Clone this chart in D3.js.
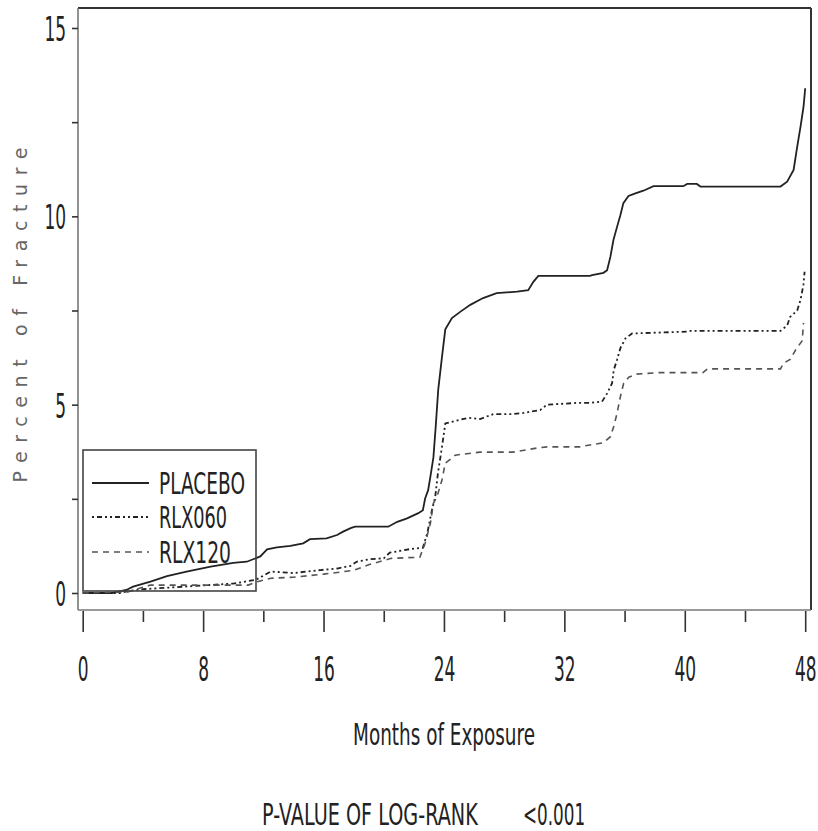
<!DOCTYPE html>
<html>
<head>
<meta charset="utf-8">
<script src="https://cdn.jsdelivr.net/npm/d3@7"></script>
<style>
  body { margin: 0; background: #fff; }
  text { font-family: "DejaVu Sans", sans-serif; }
</style>
</head>
<body>
<div id="plot"></div>
<script>
// Cumulative percent of fracture by month: [month, percent]
const placebo = [[0,0],[1.95,0],[2.9,0.08],[3.35,0.17],[4.5,0.3],[5.6,0.45],[6.9,0.57],[8.5,0.7],[10.0,0.8],[10.9,0.83],
  [11.8,0.97],[12.25,1.16],[12.9,1.21],[13.8,1.25],[14.65,1.32],[15.1,1.43],[16.2,1.45],[16.9,1.54],[17.3,1.63],[17.8,1.72],
  [18.1,1.76],[20.3,1.76],[20.9,1.89],[21.55,1.98],[22.3,2.12],[22.6,2.2],[22.75,2.51],[22.95,2.73],[23.1,3.09],[23.3,3.6],
  [23.45,4.4],[23.62,5.4],[23.87,6.27],[24.09,7.0],[24.53,7.3],[25.1,7.47],[25.75,7.65],[26.6,7.83],[27.5,7.96],[28.85,8.0],
  [29.6,8.04],[29.94,8.26],[30.27,8.42],[33.7,8.42],[33.84,8.44],[34.6,8.5],[34.84,8.57],[35.06,8.93],[35.26,9.37],[35.5,9.72],
  [35.72,10.03],[35.92,10.35],[36.26,10.54],[36.72,10.61],[37.25,10.68],[37.92,10.8],[39.9,10.8],[40.16,10.86],[40.8,10.86],
  [41.04,10.79],[46.36,10.79],[46.8,10.92],[47.23,11.23],[47.47,11.85],[47.69,12.38],[47.89,12.91],[48.0,13.4]];

const rlx060 = [[0,0],[2.5,0],[3,0.05],[4,0.1],[6,0.15],[8,0.2],[10,0.25],[11.5,0.35],[12.5,0.57],[14,0.53],
  [15.8,0.61],[16.9,0.65],[17.8,0.72],[18.2,0.83],[19.1,0.9],[20,0.92],[20.4,1.07],[21.8,1.17],[22.6,1.2],[22.9,1.6],
  [23.2,2.2],[23.42,2.55],[23.6,3.18],[23.87,3.88],[24.09,4.5],[25.09,4.6],[25.6,4.65],[26.4,4.62],[27.28,4.75],[28.6,4.75],
  [29.27,4.78],[30.4,4.86],[30.85,5.0],[33.0,5.05],[33.7,5.05],[34.5,5.08],[34.84,5.3],[35.17,5.57],[35.28,5.92],[35.5,6.19],
  [35.72,6.5],[36.06,6.76],[36.5,6.89],[40.16,6.94],[40.4,6.96],[46.36,6.96],[46.8,7.1],[47.0,7.33],[47.47,7.5],[47.69,7.78],
  [47.89,8.2],[47.96,8.53]];

const rlx120 = [[0,0],[3,0.03],[4,0.15],[4.5,0.21],[11,0.21],[11.6,0.3],[12.5,0.39],[14,0.42],[16,0.5],[18,0.6],
  [19,0.75],[20.5,0.92],[22.4,0.95],[22.75,1.32],[23.1,1.85],[23.3,2.38],[23.54,2.56],[23.87,3.0],[24.09,3.45],[24.53,3.58],
  [24.75,3.66],[26.4,3.74],[28.6,3.74],[30.2,3.85],[30.85,3.88],[33.0,3.88],[33.7,3.93],[34.6,3.99],[35.06,4.15],[35.28,4.42],
  [35.5,4.77],[35.72,5.21],[35.94,5.57],[36.28,5.73],[36.8,5.81],[38.2,5.85],[41.2,5.85],[41.5,5.95],[46.36,5.95],[46.56,6.1],
  [47.0,6.2],[47.36,6.45],[47.8,6.7],[47.89,7.17]];

const seriesNames = ["PLACEBO", "RLX060", "RLX120"];
const xMajorTicks = [0, 8, 16, 24, 32, 40, 48];
const xMinorTicks = [4, 12, 20, 28, 36, 44];
const yTicks = [0, 2.5, 5, 7.5, 10, 12.5, 15];
const yLabelTicks = [0, 5, 10, 15];

const width = 818, height = 831;
const frame = { left: 78, top: 8, right: 811, bottom: 610 };

const svg = d3.select("#plot")
    .append("svg")
    .attr("width", width)
    .attr("height", height);

const xScale = d3.scaleLinear().domain([0, 48]).range([82.7, 805.2]);
const yScale = d3.scaleLinear().domain([0, 15]).range([593, 28]);

// Frame: left / bottom in gray, top / right darker
svg.append("line")
    .attr("x1", frame.left).attr("x2", frame.right)
    .attr("y1", frame.top).attr("y2", frame.top)
    .attr("stroke", "#333").attr("stroke-width", 2);
svg.append("line")
    .attr("x1", frame.right).attr("x2", frame.right)
    .attr("y1", frame.top).attr("y2", frame.bottom)
    .attr("stroke", "#333").attr("stroke-width", 2);
svg.append("line")
    .attr("x1", frame.left).attr("x2", frame.left)
    .attr("y1", frame.top).attr("y2", frame.bottom)
    .attr("stroke", "#777").attr("stroke-width", 1.6);
svg.append("line")
    .attr("x1", frame.left).attr("x2", frame.right)
    .attr("y1", frame.bottom).attr("y2", frame.bottom)
    .attr("stroke", "#777").attr("stroke-width", 1.6);

// X axis, major and minor ticks
const xMajor = svg.append("g")
    .attr("transform", `translate(0,${frame.bottom + 1})`)
    .call(d3.axisBottom(xScale).tickValues(xMajorTicks).tickSize(21).tickSizeOuter(0));
xMajor.select(".domain").remove();
xMajor.selectAll("line").attr("stroke", "#333").attr("stroke-width", 1.6);
xMajor.selectAll("text")
    .attr("y", 70).attr("dy", 0)
    .attr("transform", "scale(0.5,1)")
    .style("font-size", "34px")
    .attr("fill", "#222");

const xMinor = svg.append("g")
    .attr("transform", `translate(0,${frame.bottom + 1})`)
    .call(d3.axisBottom(xScale).tickValues(xMinorTicks).tickSize(11).tickSizeOuter(0).tickFormat(""));
xMinor.select(".domain").remove();
xMinor.selectAll("line").attr("stroke", "#333").attr("stroke-width", 1.6);

// Y axis
const yAxis = svg.append("g")
    .attr("transform", `translate(${frame.left},0)`)
    .call(d3.axisLeft(yScale).tickValues(yTicks).tickSize(6).tickSizeOuter(0)
        .tickFormat((d) => yLabelTicks.includes(d) ? d : ""));
yAxis.select(".domain").remove();
yAxis.selectAll("line").attr("stroke", "#333").attr("stroke-width", 1.6);
yAxis.selectAll("text")
    .attr("x", -24).attr("dy", "0.37em")
    .attr("transform", "scale(0.5,1)")
    .style("font-size", "34px")
    .attr("fill", "#222");

// Curves
const line = d3.line()
    .x((d) => xScale(d[0]))
    .y((d) => yScale(d[1]));

const styles = [
    { data: placebo, stroke: "#222", width: 1.8, dash: null },
    { data: rlx060, stroke: "#222", width: 1.8, dash: "2,3,5,3,2,3" },
    { data: rlx120, stroke: "#555", width: 1.6, dash: "6,5" },
];

styles.forEach((s) => {
    svg.append("path")
        .datum(s.data)
        .attr("fill", "none")
        .attr("stroke", s.stroke)
        .attr("stroke-width", s.width)
        .attr("stroke-dasharray", s.dash)
        .attr("d", line);
});

// Legend
svg.append("rect")
    .attr("x", 83).attr("y", 450)
    .attr("width", 173).attr("height", 141)
    .attr("fill", "none")
    .attr("stroke", "#444")
    .attr("stroke-width", 1.6);

const legendY = [483, 517, 552];
const legendLen = [86, 68, 72];
seriesNames.forEach((name, i) => {
    svg.append("line")
        .attr("x1", 92).attr("x2", 149)
        .attr("y1", legendY[i]).attr("y2", legendY[i])
        .attr("stroke", styles[i].stroke)
        .attr("stroke-width", styles[i].width)
        .attr("stroke-dasharray", styles[i].dash);
    svg.append("text")
        .attr("x", 159)
        .attr("y", legendY[i] + 11)
        .attr("textLength", legendLen[i])
        .attr("lengthAdjust", "spacingAndGlyphs")
        .style("font-size", "30px")
        .attr("fill", "#222")
        .text(name);
});

// Axis titles and footnote
svg.append("text")
    .attr("transform", "translate(27,315) rotate(-90)")
    .attr("text-anchor", "middle")
    .attr("textLength", 335)
    .attr("lengthAdjust", "spacing")
    .style("font-size", "19px")
    .attr("fill", "#666")
    .text("Percent of Fracture");

svg.append("text")
    .attr("x", 353)
    .attr("y", 745)
    .attr("textLength", 182)
    .attr("lengthAdjust", "spacingAndGlyphs")
    .style("font-size", "30px")
    .attr("fill", "#222")
    .text("Months of Exposure");

svg.append("text")
    .attr("transform", "translate(262,825) scale(0.64,1)")
    .style("font-size", "30px")
    .attr("fill", "#222")
    .text("P-VALUE OF LOG-RANK");

svg.append("text")
    .attr("transform", "translate(523,825) scale(0.56,1)")
    .style("font-size", "30px")
    .attr("fill", "#222")
    .text("<0.001");
</script>
</body>
</html>
